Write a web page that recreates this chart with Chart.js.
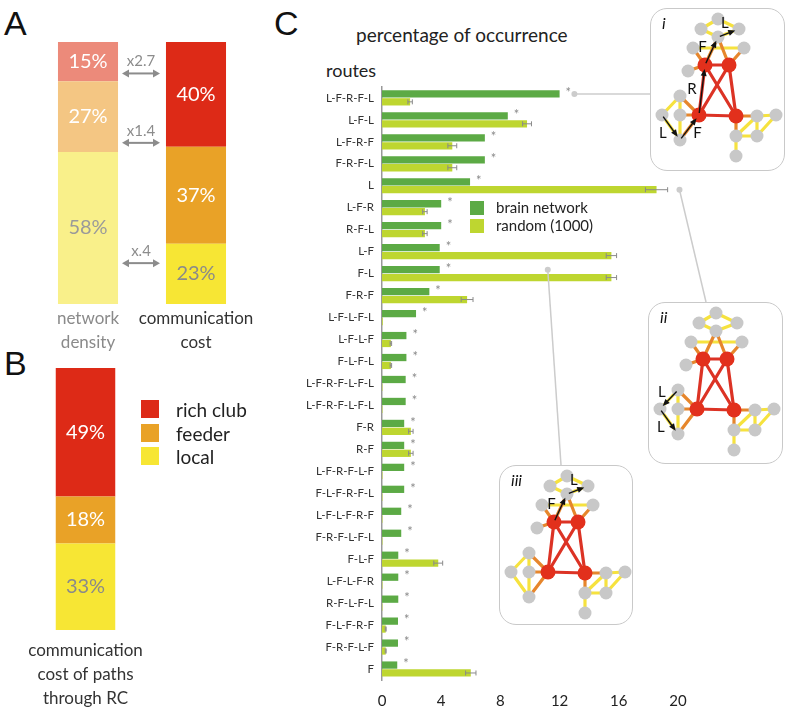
<!DOCTYPE html>
<html>
<head>
<meta charset="utf-8">
<script src="https://cdn.jsdelivr.net/npm/chart.js@4.4.1/dist/chart.umd.min.js"></script>
<style>
    body { margin: 0; width: 789px; height: 708px; position: relative; background: #fff; overflow: hidden; font-family: Lato, 'Open Sans', sans-serif; }
    canvas { position: absolute; }
    .txt { position: absolute; white-space: nowrap; line-height: 1; color: #222; }
    .letter { font-family: 'Liberation Sans', Arial, sans-serif; font-size: 34px; color: #111; }
    .inset { position: absolute; box-sizing: border-box; border: 1.5px solid #c9c9c9; border-radius: 17px; background: #fff; }
    .sw { position: absolute; }
</style>
</head>
<body>

<div class="txt letter" style="left:4px; top:6px;">A</div>
<div class="txt letter" style="left:4px; top:346px;">B</div>
<div class="txt letter" style="left:274px; top:6px;">C</div>

<canvas id="densityChart" width="300" height="356" style="left:0; top:0;"></canvas>
<canvas id="pathsChart" width="170" height="368" style="left:0; top:340px;"></canvas>

<!-- rich club / feeder / local legend -->
<div class="sw" style="left:141px; top:400px; width:18px; height:18px; background:#dd2a17;"></div>
<div class="sw" style="left:141px; top:424px; width:18px; height:18px; background:#e9a227;"></div>
<div class="sw" style="left:141px; top:447px; width:18px; height:18px; background:#f7e634;"></div>
<div class="txt" style="left:176px; top:400px; font-size:19px;">rich club</div>
<div class="txt" style="left:176px; top:424px; font-size:19px;">feeder</div>
<div class="txt" style="left:176px; top:447px; font-size:19px;">local</div>

<div class="txt" style="left:356px; top:25px; font-size:19px;">percentage of occurrence</div>
<div class="txt" style="left:326px; top:61px; font-size:18px;">routes</div>

<canvas id="routesChart" width="489" height="636" style="left:300px; top:72px;"></canvas>

<div class="sw" style="left:470px; top:201px; width:14px; height:14px; background:#5caa45;"></div>
<div class="sw" style="left:470px; top:219px; width:14px; height:14px; background:#bed630;"></div>
<div class="txt" style="left:496px; top:200px; font-size:15px;">brain network</div>
<div class="txt" style="left:496px; top:218px; font-size:15px;">random (1000)</div>

<div class="inset" style="left:650px; top:8px; width:135px; height:163px;"></div>
<canvas id="netI" width="135" height="163" style="left:650px; top:8px;"></canvas>
<div class="inset" style="left:648px; top:302px; width:135px; height:162px;"></div>
<canvas id="netII" width="135" height="162" style="left:648px; top:302px;"></canvas>
<div class="inset" style="left:499px; top:465px; width:134px; height:160px;"></div>
<canvas id="netIII" width="134" height="160" style="left:499px; top:465px;"></canvas>

<script>
// panel A: share of connections vs share of communication cost
const densityLabels = [['network', 'density'], ['communication', 'cost']];
const localShare = [58, 23];
const feederShare = [27, 37];
const richShare = [15, 40];
const ratioLabels = ['x2.7', 'x1.4', 'x.4'];
const ratioLevels = [88, 61.5, 15.6];

// panel B: cost of paths through the rich club
const pathsLabels = [['communication', 'cost of paths', 'through RC']];
const pathsLocal = [33];
const pathsFeeder = [18];
const pathsRich = [49];

// panel C: routes
const routes = ['L-F-R-F-L', 'L-F-L', 'L-F-R-F', 'F-R-F-L', 'L', 'L-F-R', 'R-F-L', 'L-F', 'F-L', 'F-R-F',
    'L-F-L-F-L', 'L-F-L-F', 'F-L-F-L', 'L-F-R-F-L-F-L', 'L-F-R-F-L-F-L', 'F-R', 'R-F', 'L-F-R-F-L-F',
    'F-L-F-R-F-L', 'L-F-L-F-R-F', 'F-R-F-L-F-L', 'F-L-F', 'L-F-L-F-R', 'R-F-L-F-L', 'F-L-F-R-F', 'F-R-F-L-F', 'F'];
const brainPct = [12.0, 8.5, 6.95, 6.95, 5.95, 4.0, 4.0, 3.9, 3.9, 3.2,
    2.3, 1.65, 1.65, 1.6, 1.6, 1.5, 1.5, 1.5,
    1.5, 1.3, 1.3, 1.1, 1.1, 1.1, 1.08, 1.08, 1.03];
const randomPct = [1.9, 9.8, 4.75, 4.75, 18.55, 2.9, 2.9, 15.5, 15.5, 5.75,
    0.05, 0.6, 0.6, 0.03, 0.03, 1.95, 1.95, 0.03,
    0.03, 0.03, 0.03, 3.8, 0.03, 0.03, 0.25, 0.25, 6.0];
const randomErr = [0.15, 0.3, 0.3, 0.3, 0.75, 0.15, 0.15, 0.35, 0.35, 0.4,
    0, 0.05, 0.05, 0, 0, 0.15, 0.15, 0,
    0, 0, 0, 0.3, 0, 0, 0.03, 0.03, 0.35];
const xTicks = [0, 4, 8, 12, 16, 20];

// network sketch used in the three insets
const netNodes = [[68, 11], [51, 21], [89, 21], [68, 29], [43, 40], [94, 40], [55, 57], [79, 57], [38, 63], [30, 88],
    [12, 107], [30, 107], [30, 132], [49, 107], [86, 108], [107, 108], [126, 107], [86, 128], [107, 128], [86, 148]];
const hubNodes = [6, 7, 13, 14];
const localEdges = [[0, 1], [0, 2], [1, 3], [2, 3], [4, 5], [9, 10], [9, 11], [11, 12], [10, 12],
    [15, 16], [15, 17], [16, 18], [17, 18], [15, 18], [17, 19]];
const feederEdges = [[3, 6], [3, 7], [4, 6], [5, 7], [8, 6], [9, 13], [11, 13], [12, 13], [14, 15], [14, 17]];
const clubEdges = [[6, 7], [6, 13], [7, 14], [6, 14], [7, 13], [13, 14]];
const routeI = [[10, 12, 'L', 1], [12, 13, 'F', 1], [13, 6, 'R', -1], [6, 3, 'F', -1], [3, 2, 'L', -1]];
const routeII = [[9, 10, 'L', 1], [10, 12, 'L', 1]];
const routeIII = [[6, 3, 'F', -1], [3, 2, 'L', -1]];

const GREEN = '#5caa45';
const LIME = '#bed630';

Chart.defaults.font.family = "Lato, 'Open Sans', sans-serif";
Chart.defaults.animation = false;

// draws "NN%" in the middle of every stacked segment
const segmentLabels = {
    id: 'segmentLabels',
    afterDatasetsDraw(chart) {
        const ctx = chart.ctx;
        ctx.save();
        ctx.font = '20px Lato';
        ctx.textAlign = 'center';
        ctx.textBaseline = 'middle';
        chart.data.datasets.forEach((ds, di) => {
            chart.getDatasetMeta(di).data.forEach((bar, i) => {
                ctx.fillStyle = ds.textColor[i];
                ctx.fillText(ds.data[i] + '%', bar.x, (bar.y + bar.base) / 2);
            });
        });
        ctx.restore();
    }
};

const ratioArrows = {
    id: 'ratioArrows',
    afterDraw(chart) {
        const ctx = chart.ctx;
        const meta = chart.getDatasetMeta(0);
        const a = meta.data[0], b = meta.data[1];
        const x1 = a.x + a.width / 2 + 4;
        const x2 = b.x - b.width / 2 - 6;
        ctx.save();
        ctx.strokeStyle = '#8c8c8c';
        ctx.fillStyle = '#8c8c8c';
        ctx.lineWidth = 2;
        ctx.font = '15px Lato';
        ctx.textAlign = 'center';
        ctx.textBaseline = 'middle';
        ratioLevels.forEach((v, i) => {
            const y = chart.scales.y.getPixelForValue(v);
            ctx.beginPath();
            ctx.moveTo(x1 + 4, y);
            ctx.lineTo(x2 - 4, y);
            ctx.stroke();
            [[x1, 1], [x2, -1]].forEach(([x, d]) => {
                ctx.beginPath();
                ctx.moveTo(x, y);
                ctx.lineTo(x + 7 * d, y - 4);
                ctx.lineTo(x + 7 * d, y + 4);
                ctx.closePath();
                ctx.fill();
            });
            ctx.fillText(ratioLabels[i], (x1 + x2) / 2, y - 12);
        });
        ctx.restore();
    }
};

function stackedOptions(padding, axisHeight, tickPad, tickColor) {
    return {
        responsive: false,
        layout: {padding: padding},
        plugins: {legend: {display: false}, tooltip: {enabled: false}},
        scales: {
            x: {
                stacked: true,
                grid: {display: false, drawTicks: false},
                border: {display: false},
                ticks: {color: tickColor, font: {size: 17, lineHeight: 1.4}, padding: tickPad, maxRotation: 0, minRotation: 0, autoSkip: false},
                afterFit: (s) => { s.height = axisHeight; }
            },
            y: {stacked: true, min: 0, max: 100, display: false}
        }
    };
}

new Chart(document.getElementById('densityChart').getContext('2d'), {
    type: 'bar',
    data: {
        labels: densityLabels,
        datasets: [
            {data: localShare, backgroundColor: ['#f9f08a', '#f7e634'], textColor: ['#9a9a9a', '#8a8a8a'], barPercentage: 0.556, categoryPercentage: 1},
            {data: feederShare, backgroundColor: ['#f4c683', '#e9a227'], textColor: ['#fff', '#fff'], barPercentage: 0.556, categoryPercentage: 1},
            {data: richShare, backgroundColor: ['#ec8a7a', '#dd2a17'], textColor: ['#fff', '#fff'], barPercentage: 0.556, categoryPercentage: 1}
        ]
    },
    options: stackedOptions({left: 34, right: 50, top: 42}, 52, 3, (c) => c.index === 0 ? '#8a8a8a' : '#333'),
    plugins: [segmentLabels, ratioArrows]
});

new Chart(document.getElementById('pathsChart').getContext('2d'), {
    type: 'bar',
    data: {
        labels: pathsLabels,
        datasets: [
            {data: pathsLocal, backgroundColor: '#f7e634', textColor: ['#8a8a8a'], barPercentage: 0.5, categoryPercentage: 1},
            {data: pathsFeeder, backgroundColor: '#e9a227', textColor: ['#fff'], barPercentage: 0.5, categoryPercentage: 1},
            {data: pathsRich, backgroundColor: '#dd2a17', textColor: ['#fff'], barPercentage: 0.5, categoryPercentage: 1}
        ]
    },
    options: stackedOptions({left: 26, right: 25, top: 28}, 78, 9, '#333'),
    plugins: [segmentLabels]
});

// stars, error bars and the grey leader lines to the insets
const connectors = [
    {row: 0, series: 0, value: 13.0, to: [650, null]},
    {row: 4, series: 1, value: 20.1, to: [706, 302]},
    {row: 8, series: 0, value: 11.2, to: [561, 465]}
];

const routeMarks = {
    id: 'routeMarks',
    afterDatasetsDraw(chart) {
        const ctx = chart.ctx;
        const xs = chart.scales.x;
        ctx.save();
        // error bars of the random networks
        ctx.strokeStyle = '#8a8a8a';
        ctx.lineWidth = 1;
        chart.getDatasetMeta(1).data.forEach((bar, i) => {
            const e = randomErr[i];
            if (!e) return;
            const lo = xs.getPixelForValue(randomPct[i] - e);
            const hi = xs.getPixelForValue(randomPct[i] + e);
            ctx.beginPath();
            ctx.moveTo(lo, bar.y); ctx.lineTo(hi, bar.y);
            ctx.moveTo(lo, bar.y - 2.5); ctx.lineTo(lo, bar.y + 2.5);
            ctx.moveTo(hi, bar.y - 2.5); ctx.lineTo(hi, bar.y + 2.5);
            ctx.stroke();
        });
        // significance stars
        ctx.fillStyle = '#8a8a8a';
        ctx.font = '13px Lato';
        ctx.textBaseline = 'middle';
        chart.getDatasetMeta(0).data.forEach((bar) => {
            ctx.fillText('*', bar.x + 6, bar.y - 1);
        });
        // leader lines
        const canvasLeft = 300, canvasTop = 72;
        ctx.strokeStyle = '#cccccc';
        ctx.fillStyle = '#cccccc';
        ctx.lineWidth = 1.5;
        connectors.forEach((c) => {
            const bar = chart.getDatasetMeta(c.series).data[c.row];
            const x = xs.getPixelForValue(c.value);
            const y = bar.y;
            const tx = c.to[0] - canvasLeft;
            const ty = c.to[1] === null ? y : c.to[1] - canvasTop;
            ctx.beginPath();
            ctx.arc(x, y, 3, 0, Math.PI * 2);
            ctx.fill();
            ctx.beginPath();
            ctx.moveTo(x, y);
            ctx.lineTo(tx, ty);
            ctx.stroke();
        });
        ctx.restore();
    }
};

new Chart(document.getElementById('routesChart').getContext('2d'), {
    type: 'bar',
    data: {
        labels: routes,
        datasets: [
            {label: 'brain network', data: brainPct, backgroundColor: GREEN, barPercentage: 0.92, categoryPercentage: 0.72},
            {label: 'random (1000)', data: randomPct, backgroundColor: LIME, barPercentage: 0.92, categoryPercentage: 0.72}
        ]
    },
    options: {
        indexAxis: 'y',
        responsive: false,
        layout: {padding: {top: 4, right: 111}},
        plugins: {legend: {display: false}, tooltip: {enabled: false}},
        scales: {
            x: {
                min: 0, max: 20,
                grid: {display: false, drawTicks: false},
                border: {display: false},
                afterBuildTicks: (s) => { s.ticks = xTicks.map((v) => ({value: v})); },
                ticks: {color: '#222', font: {size: 15}, padding: 12},
                afterFit: (s) => { s.height = 28; }
            },
            y: {
                grid: {display: false, drawTicks: false},
                border: {display: true, color: '#999', width: 1.5},
                ticks: {color: '#333', font: {size: 11.5}, padding: 8, autoSkip: false},
                afterFit: (s) => { s.width = 82; }
            }
        }
    },
    plugins: [routeMarks]
});

// network insets
function drawEdges(ctx, chart, edges, color) {
    const xs = chart.scales.x, ys = chart.scales.y;
    ctx.strokeStyle = color;
    ctx.lineWidth = 3.2;
    edges.forEach(([a, b]) => {
        ctx.beginPath();
        ctx.moveTo(xs.getPixelForValue(netNodes[a][0]), ys.getPixelForValue(netNodes[a][1]));
        ctx.lineTo(xs.getPixelForValue(netNodes[b][0]), ys.getPixelForValue(netNodes[b][1]));
        ctx.stroke();
    });
}

const netPlugin = {
    id: 'netPlugin',
    beforeDatasetsDraw(chart) {
        const ctx = chart.ctx;
        ctx.save();
        ctx.lineCap = 'round';
        drawEdges(ctx, chart, localEdges, '#f6e23e');
        drawEdges(ctx, chart, feederEdges, '#e6862c');
        drawEdges(ctx, chart, clubEdges, '#dc3325');
        ctx.restore();
    },
    afterDatasetsDraw(chart, args, opts) {
        const ctx = chart.ctx;
        const xs = chart.scales.x, ys = chart.scales.y;
        ctx.save();
        ctx.strokeStyle = '#111';
        ctx.fillStyle = '#111';
        ctx.lineWidth = 1.4;
        ctx.font = '15px Lato';
        ctx.textAlign = 'center';
        ctx.textBaseline = 'middle';
        opts.route.forEach(([a, b, label, side]) => {
            const x1 = xs.getPixelForValue(netNodes[a][0]), y1 = ys.getPixelForValue(netNodes[a][1]);
            const x2 = xs.getPixelForValue(netNodes[b][0]), y2 = ys.getPixelForValue(netNodes[b][1]);
            const len = Math.hypot(x2 - x1, y2 - y1);
            const ux = (x2 - x1) / len, uy = (y2 - y1) / len;
            const ex = x2 - ux * 4, ey = y2 - uy * 4;
            ctx.beginPath();
            ctx.moveTo(x1 + ux * 2, y1 + uy * 2);
            ctx.lineTo(ex - ux * 4, ey - uy * 4);
            ctx.stroke();
            ctx.beginPath();
            ctx.moveTo(ex, ey);
            ctx.lineTo(ex - ux * 7 - uy * 3, ey - uy * 7 + ux * 3);
            ctx.lineTo(ex - ux * 7 + uy * 3, ey - uy * 7 - ux * 3);
            ctx.closePath();
            ctx.fill();
            const mx = (x1 + x2) / 2 - uy * side * 10;
            const my = (y1 + y2) / 2 + ux * side * 10;
            ctx.fillText(label, mx, my);
        });
        ctx.font = 'italic 16px Lato';
        ctx.textAlign = 'left';
        ctx.fillText(opts.tag, 12, 16);
        ctx.restore();
    }
};

function netChart(id, tag, route) {
    const canvas = document.getElementById(id);
    const pts = netNodes.map(([x, y]) => ({x: x, y: y}));
    return new Chart(canvas.getContext('2d'), {
        type: 'scatter',
        data: {
            datasets: [
                {data: pts.filter((p, i) => !hubNodes.includes(i)), pointRadius: 6.5, pointBackgroundColor: '#c8c8c8', pointBorderWidth: 0},
                {data: pts.filter((p, i) => hubNodes.includes(i)), pointRadius: 7.5, pointBackgroundColor: '#e2301c', pointBorderWidth: 0}
            ]
        },
        options: {
            responsive: false,
            layout: {padding: 0, autoPadding: false},
            plugins: {legend: {display: false}, tooltip: {enabled: false}, netPlugin: {tag: tag, route: route}},
            scales: {
                x: {display: false, min: 0, max: canvas.width},
                y: {display: false, min: 0, max: canvas.height, reverse: true}
            }
        },
        plugins: [netPlugin]
    });
}

netChart('netI', 'i', routeI);
netChart('netII', 'ii', routeII);
netChart('netIII', 'iii', routeIII);
</script>
</body>
</html>
